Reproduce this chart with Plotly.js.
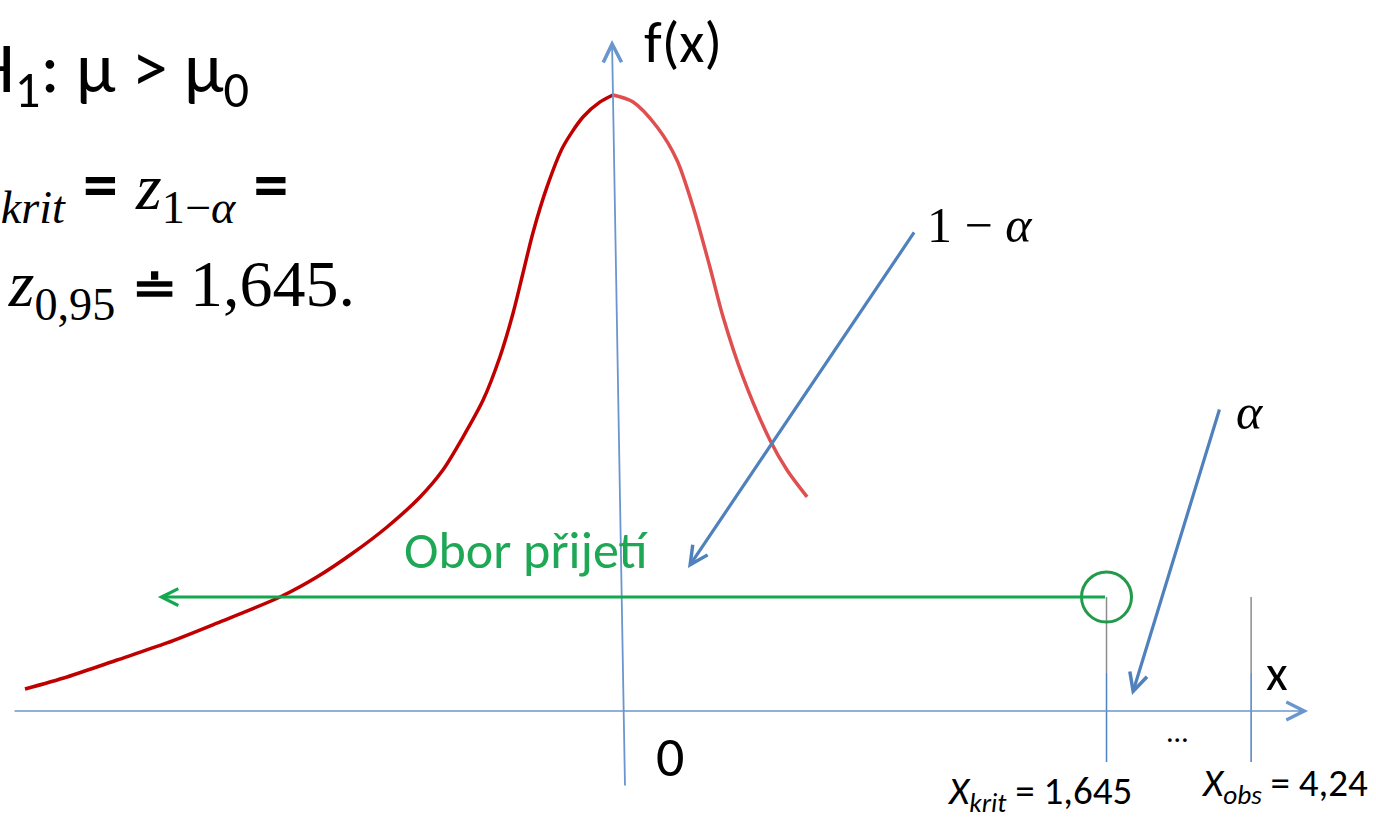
<!DOCTYPE html>
<html>
<head>
<meta charset="utf-8">
<script src="https://cdn.plot.ly/plotly-3.0.1.min.js"></script>
<style>html,body{margin:0;padding:0;background:#fff;}#chart{width:1376px;height:823px;}</style>
</head>
<body>
<div id="chart"></div>
<script>
// ---- data (x in z-units, y in density f(x)) ----
const curveLeftX  = [-1.960, -1.820, -1.653, -1.487, -1.320, -1.110, -0.987, -0.867, -0.753, -0.643, -0.567, -0.500, -0.433, -0.377, -0.333, -0.300, -0.267, -0.220, -0.167, -0.100, -0.043, 0.000];
const curveLeftY  = [0.0143, 0.0221, 0.0331, 0.0442, 0.0571, 0.0740, 0.0870, 0.1026, 0.1195, 0.1390, 0.1565, 0.1779, 0.2019, 0.2299, 0.2584, 0.2844, 0.3104, 0.3403, 0.3662, 0.3857, 0.3955, 0.4000];
const curveRightX = [0.000, 0.067, 0.147, 0.213, 0.267, 0.323, 0.367, 0.433, 0.523, 0.580, 0.647];
const curveRightY = [0.4000, 0.3955, 0.3792, 0.3578, 0.3273, 0.2883, 0.2558, 0.2169, 0.1760, 0.1565, 0.1390];
const xKrit = 1.645;          // critical value
const xObsLabel = "4,24";     // observed value (axis is broken, drawn after "...")
const xKritLabel = "1,645";
const acceptLabel = "Obor přijetí";

// ---- diagram geometry (in the same data units) ----
const xRange = [-2.0433, 2.5433];
const yRange = [-0.072727, 0.461688];
const xAxisEnds = [-2.0, 2.317];
const yAxisBottom = [0.040, -0.0494], yAxisTop = [-0.0033, 0.4357];
const acceptY = 0.074, acceptLeft = -1.517;
const xObsPos = 2.127;
const lineBottom = -0.0331, grayEnd = 0.0247;
const arrow1 = {tail: [1.007, 0.3117], tip: [0.250, 0.0929]};
const arrow2 = {tail: [2.023, 0.1968], tip: [1.730, 0.0104]};

const blue = '#4F81BD', axisBlue = '#6A96CE', gray = '#8C8C8C';
const sans = 'Carlito, Lato, sans-serif';
const serif = 'Liberation Serif, serif';

const traces = [
  {x: curveLeftX, y: curveLeftY, mode: 'lines', line: {color: '#C00000', width: 3.5, shape: 'spline', smoothing: 0.8}},
  {x: curveRightX, y: curveRightY, mode: 'lines', line: {color: '#E04F4F', width: 3.5, shape: 'spline', smoothing: 0.8}},
  // vertical marker lines at x_krit and x_obs (gray upper part, blue lower part)
  {x: [xKrit, xKrit], y: [acceptY, grayEnd], mode: 'lines', line: {color: gray, width: 1.5}},
  {x: [xKrit, xKrit], y: [grayEnd, lineBottom], mode: 'lines', line: {color: blue, width: 1.5}},
  {x: [xObsPos, xObsPos], y: [acceptY, grayEnd], mode: 'lines', line: {color: gray, width: 1.5}},
  {x: [xObsPos, xObsPos], y: [grayEnd, lineBottom], mode: 'lines', line: {color: blue, width: 1.5}},
  // circle at the critical value
  {x: [xKrit], y: [acceptY], mode: 'markers', marker: {symbol: 'circle-open', size: 50, color: '#239A4A', line: {width: 3, color: '#239A4A'}}}
];

function arrow(tail, tip, color, width, size) {
  return {x: tip[0], y: tip[1], ax: tail[0], ay: tail[1], xref: 'x', yref: 'y', axref: 'x', ayref: 'y',
    text: '', showarrow: true, arrowhead: 5, arrowsize: size, arrowwidth: width, arrowcolor: color, standoff: 0, startstandoff: 0};
}
function label(x, y, text, size, family, xanchor, color) {
  return {x: x, y: y, xref: 'x', yref: 'y', text: text, showarrow: false, xanchor: xanchor || 'center', yanchor: 'middle',
    font: {size: size, family: family, color: color || '#000'}};
}
const eqS = (t, sz) => '<span style="font-family:Lato;font-weight:bold' + (sz ? ';font-size:' + sz + 'px' : '') + '">' + t + '</span>';

const annotations = [
  arrow([xAxisEnds[0], 0], [xAxisEnds[1], 0], axisBlue, 1.6, 2.2),
  arrow(yAxisBottom, yAxisTop, axisBlue, 1.8, 2.0),
  arrow([xKrit, acceptY], [acceptLeft, acceptY], '#13A84F', 3, 1.1),
  arrow(arrow1.tail, arrow1.tip, blue, 3.2, 1.1),
  arrow(arrow2.tail, arrow2.tip, blue, 3.2, 1.1),
  label(0.233, 0.4344, 'f(x)', 58, sans),
  label(1.223, 0.3156, '1 − <i>α</i>', 50, serif),
  label(2.123, 0.1942, '<i>α</i>', 50, serif),
  label(-0.29, 0.1045, acceptLabel, 52, sans, 'center', '#1EA855'),
  label(0.19, -0.0299, '0', 56, sans),
  label(2.213, 0.0247, 'x', 50, sans),
  label(1.883, -0.013, '…', 30, sans),
  label(1.423, -0.0532, '<i>X</i><sub><i>krit</i></sub> = ' + xKritLabel, 39, sans),
  label(2.237, -0.048, '<i>X</i><sub><i>obs</i></sub> = ' + xObsLabel, 39, sans),
  label(-1.205, 0.415, 'H<sub>1</sub>: μ > μ<sub>0</sub>', 72, sans, 'right'),
  label(-1.07, 0.3396, '<i>z</i><sub><i>krit</i></sub> ' + eqS('=') + ' <i>z</i><sub>1−<i>α</i></sub> ' + eqS('='), 66, serif, 'right'),
  label(-0.853, 0.276, eqS('=') + ' <i>z</i><sub>0,95</sub> ' + eqS('≐', 54) + '\u20091,645.', 66, serif, 'right')
];

const layout = {
  width: 1376, height: 823, margin: {l: 0, r: 0, t: 0, b: 0},
  paper_bgcolor: '#fff', plot_bgcolor: '#fff', showlegend: false, hovermode: false,
  xaxis: {range: xRange, visible: false, fixedrange: true},
  yaxis: {range: yRange, visible: false, fixedrange: true},
  annotations: annotations
};
Plotly.newPlot('chart', traces, layout, {staticPlot: true, displayModeBar: false});
</script>
</body>
</html>
